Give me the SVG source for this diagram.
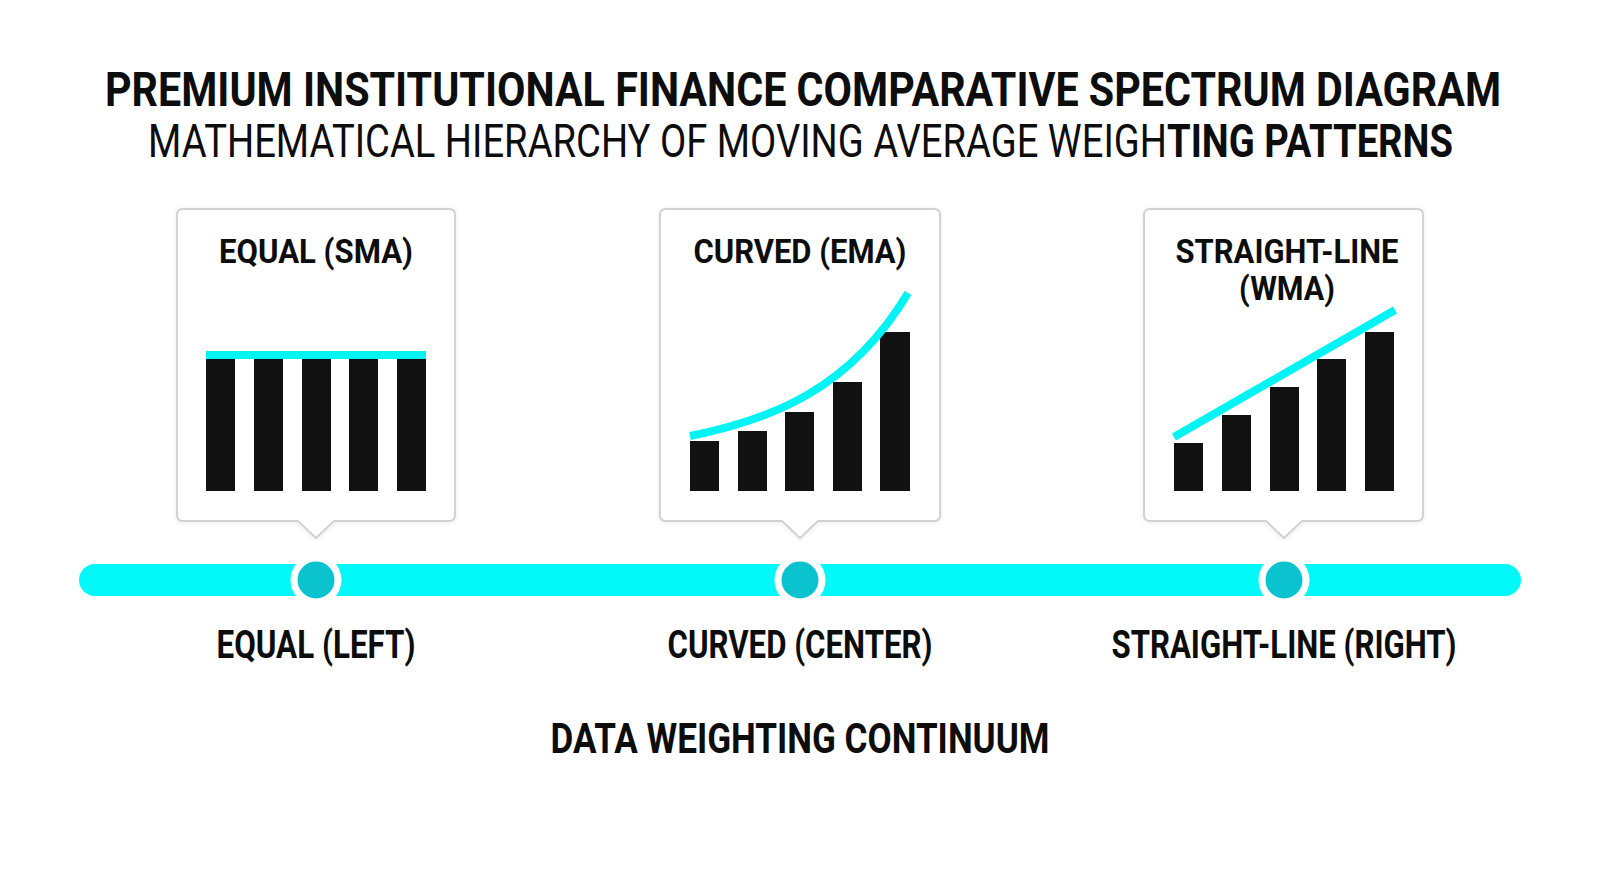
<svg xmlns="http://www.w3.org/2000/svg" width="1600" height="893" viewBox="0 0 1600 893">
<style>
.t{font-family:Roboto,"Liberation Sans",sans-serif;font-weight:700;fill:#0d0d0d}
.r{font-weight:400}
.box{fill:#fff;stroke:#d2d2d2;stroke-width:2}
.bar{fill:#111}
.cy{fill:none;stroke:#00f4f4;stroke-width:8}
.dot{fill:#0bc3cf;stroke:#fff;stroke-width:7}
</style>
<defs>
<filter id="sh" x="-10%" y="-10%" width="120%" height="120%"><feDropShadow dx="0" dy="1" stdDeviation="2" flood-color="#000" flood-opacity="0.08"/></filter>
</defs>
<rect width="1600" height="893" fill="#fff"/>
<g id="title">
<text class="t" x="803" y="106" font-size="49" text-anchor="middle" textLength="1396" lengthAdjust="spacingAndGlyphs">PREMIUM INSTITUTIONAL FINANCE COMPARATIVE SPECTRUM DIAGRAM</text>
<text class="t" x="148" y="157" font-size="47" textLength="1305" lengthAdjust="spacingAndGlyphs"><tspan class="r">MATHEMATICAL HIERARCHY OF MOVING AVERAGE WEIGH</tspan>TING PATTERNS</text>
</g>
<g id="connectors">
<line x1="95" y1="580" x2="1505" y2="580" stroke="#00f8f8" stroke-width="32" stroke-linecap="round"/>
</g>
<g id="node-equal">
<path class="box" filter="url(#sh)" d="M183,209 H449 Q455,209 455,215 V515 Q455,521 449,521 H334 L316,538 L298,521 H183 Q177,521 177,515 V215 Q177,209 183,209 Z"/>
<text class="t" x="316" y="263" font-size="34" text-anchor="middle" textLength="194" lengthAdjust="spacingAndGlyphs">EQUAL (SMA)</text>
<rect class="bar" x="206" y="359" width="29" height="132"/>
<rect class="bar" x="254" y="359" width="29" height="132"/>
<rect class="bar" x="302" y="359" width="29" height="132"/>
<rect class="bar" x="349" y="359" width="29" height="132"/>
<rect class="bar" x="397" y="359" width="29" height="132"/>
<rect x="206" y="351" width="220" height="8" fill="#00f4f4"/>
<circle class="dot" cx="316" cy="580" r="22"/>
<text class="t" x="316" y="658" font-size="39" text-anchor="middle" textLength="199" lengthAdjust="spacingAndGlyphs">EQUAL (LEFT)</text>
</g>
<g id="node-curved">
<path class="box" filter="url(#sh)" d="M666,209 H934 Q940,209 940,215 V515 Q940,521 934,521 H818 L800,538 L782,521 H666 Q660,521 660,515 V215 Q660,209 666,209 Z"/>
<text class="t" x="800" y="263" font-size="34" text-anchor="middle" textLength="213" lengthAdjust="spacingAndGlyphs">CURVED (EMA)</text>
<rect class="bar" x="690" y="441" width="29" height="50"/>
<rect class="bar" x="738" y="431" width="29" height="60"/>
<rect class="bar" x="785" y="412" width="29" height="79"/>
<rect class="bar" x="833" y="382" width="29" height="109"/>
<rect class="bar" x="880" y="332" width="30" height="159"/>
<path class="cy" d="M690,436 C770,420 850,390 908,293"/>
<circle class="dot" cx="800" cy="580" r="22"/>
<text class="t" x="800" y="658" font-size="39" text-anchor="middle" textLength="265" lengthAdjust="spacingAndGlyphs">CURVED (CENTER)</text>
</g>
<g id="node-straight">
<path class="box" filter="url(#sh)" d="M1150,209 H1417 Q1423,209 1423,215 V515 Q1423,521 1417,521 H1302 L1284,538 L1266,521 H1150 Q1144,521 1144,515 V215 Q1144,209 1150,209 Z"/>
<text class="t" x="1287" y="263" font-size="34" text-anchor="middle" textLength="223" lengthAdjust="spacingAndGlyphs">STRAIGHT-LINE</text>
<text class="t" x="1287" y="300" font-size="34" text-anchor="middle" textLength="96" lengthAdjust="spacingAndGlyphs">(WMA)</text>
<rect class="bar" x="1174" y="443" width="29" height="48"/>
<rect class="bar" x="1222" y="415" width="29" height="76"/>
<rect class="bar" x="1270" y="387" width="29" height="104"/>
<rect class="bar" x="1317" y="359" width="29" height="132"/>
<rect class="bar" x="1365" y="332" width="29" height="159"/>
<line class="cy" x1="1174" y1="437" x2="1395" y2="310"/>
<circle class="dot" cx="1284" cy="580" r="22"/>
<text class="t" x="1284" y="658" font-size="39" text-anchor="middle" textLength="345" lengthAdjust="spacingAndGlyphs">STRAIGHT-LINE (RIGHT)</text>
</g>
<g id="axis-label">
<text class="t" x="800" y="753" font-size="43" text-anchor="middle" textLength="499" lengthAdjust="spacingAndGlyphs">DATA WEIGHTING CONTINUUM</text>
</g>
</svg>
